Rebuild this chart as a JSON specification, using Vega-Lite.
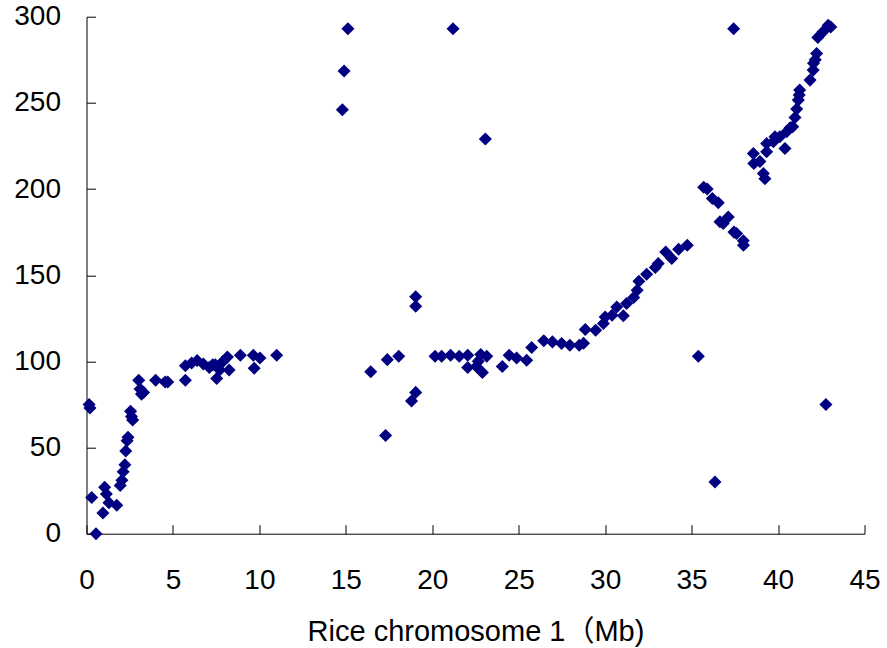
{
  "$schema": "https://vega.github.io/schema/vega-lite/v6.json",
  "width": 778,
  "height": 517,
  "autosize": {"type": "none"},
  "padding": {"left": 86.5, "top": 16.7, "right": 22.5, "bottom": 114.3},
  "background": "white",
  "config": {"view": {"stroke": null}},
  "data": {"values": [
    {"mb": 0.15, "pos": 75}, {"mb": 0.2, "pos": 73}, {"mb": 0.3, "pos": 21}, {"mb": 0.55, "pos": 0}, {"mb": 0.95, "pos": 12}, {"mb": 1.05, "pos": 27}, {"mb": 1.15, "pos": 23}, {"mb": 1.3, "pos": 18}, {"mb": 1.75, "pos": 16.5}, {"mb": 1.95, "pos": 28}, {"mb": 2.05, "pos": 31}, {"mb": 2.12, "pos": 36}, {"mb": 2.22, "pos": 40}, {"mb": 2.27, "pos": 48}, {"mb": 2.35, "pos": 54}, {"mb": 2.4, "pos": 56}, {"mb": 2.55, "pos": 71}, {"mb": 2.6, "pos": 68}, {"mb": 2.67, "pos": 66}, {"mb": 3.02, "pos": 89}, {"mb": 3.1, "pos": 84}, {"mb": 3.18, "pos": 81}, {"mb": 3.3, "pos": 82}, {"mb": 4.0, "pos": 89}, {"mb": 4.55, "pos": 88}, {"mb": 4.7, "pos": 88}, {"mb": 5.72, "pos": 89}, {"mb": 5.72, "pos": 97.5}, {"mb": 6.08, "pos": 99}, {"mb": 6.4, "pos": 100.5}, {"mb": 6.76, "pos": 98.5}, {"mb": 7.1, "pos": 96.5}, {"mb": 7.3, "pos": 98}, {"mb": 7.45, "pos": 98}, {"mb": 7.53, "pos": 90}, {"mb": 7.7, "pos": 95}, {"mb": 7.9, "pos": 100}, {"mb": 8.15, "pos": 102.5}, {"mb": 8.25, "pos": 95}, {"mb": 8.9, "pos": 103.5}, {"mb": 9.65, "pos": 103.5}, {"mb": 9.7, "pos": 96}, {"mb": 10.03, "pos": 102}, {"mb": 11.0, "pos": 103.5},
    {"mb": 14.8, "pos": 246}, {"mb": 14.9, "pos": 268.5}, {"mb": 15.12, "pos": 293}, {"mb": 16.44, "pos": 94}, {"mb": 17.3, "pos": 57}, {"mb": 17.4, "pos": 101}, {"mb": 18.06, "pos": 103}, {"mb": 18.8, "pos": 77}, {"mb": 19.04, "pos": 82}, {"mb": 19.04, "pos": 132}, {"mb": 19.04, "pos": 137.5},
    {"mb": 20.16, "pos": 103}, {"mb": 20.54, "pos": 103}, {"mb": 21.06, "pos": 103.5}, {"mb": 21.2, "pos": 293}, {"mb": 21.56, "pos": 103}, {"mb": 22.05, "pos": 103.5}, {"mb": 22.05, "pos": 96.5}, {"mb": 22.55, "pos": 97}, {"mb": 22.66, "pos": 100}, {"mb": 22.8, "pos": 104}, {"mb": 22.9, "pos": 93.5}, {"mb": 23.07, "pos": 229}, {"mb": 23.15, "pos": 103}, {"mb": 24.05, "pos": 97}, {"mb": 24.45, "pos": 103.5}, {"mb": 24.88, "pos": 102}, {"mb": 25.46, "pos": 100.7}, {"mb": 25.75, "pos": 108}, {"mb": 26.45, "pos": 112}, {"mb": 26.95, "pos": 111.3}, {"mb": 27.48, "pos": 110.4}, {"mb": 27.96, "pos": 109.4}, {"mb": 28.5, "pos": 109.4}, {"mb": 28.75, "pos": 110.5}, {"mb": 28.85, "pos": 118.5}, {"mb": 29.45, "pos": 118}, {"mb": 29.9, "pos": 122}, {"mb": 30.0, "pos": 125.8}, {"mb": 30.4, "pos": 126.8}, {"mb": 30.67, "pos": 131.6}, {"mb": 31.05, "pos": 126.5}, {"mb": 31.24, "pos": 133.6}, {"mb": 31.65, "pos": 137}, {"mb": 31.85, "pos": 141.3}, {"mb": 31.95, "pos": 146.5}, {"mb": 32.4, "pos": 150.5}, {"mb": 32.9, "pos": 154.5}, {"mb": 33.07, "pos": 156.8}, {"mb": 33.5, "pos": 163.5}, {"mb": 33.85, "pos": 159.7}, {"mb": 34.25, "pos": 165}, {"mb": 34.75, "pos": 167.4},
    {"mb": 35.39, "pos": 103}, {"mb": 35.7, "pos": 201}, {"mb": 35.9, "pos": 200}, {"mb": 36.2, "pos": 194.5}, {"mb": 36.35, "pos": 30}, {"mb": 36.54, "pos": 192}, {"mb": 36.64, "pos": 181}, {"mb": 36.83, "pos": 180}, {"mb": 37.12, "pos": 183.8}, {"mb": 37.43, "pos": 293}, {"mb": 37.45, "pos": 175}, {"mb": 37.6, "pos": 174.2}, {"mb": 37.99, "pos": 170}, {"mb": 38.0, "pos": 167.4}, {"mb": 38.57, "pos": 220.6}, {"mb": 38.6, "pos": 214.8}, {"mb": 38.95, "pos": 216}, {"mb": 39.15, "pos": 209}, {"mb": 39.24, "pos": 206}, {"mb": 39.34, "pos": 221.6}, {"mb": 39.34, "pos": 226.4}, {"mb": 39.73, "pos": 227.5}, {"mb": 39.82, "pos": 230.3}, {"mb": 40.1, "pos": 230.3}, {"mb": 40.4, "pos": 223.5}, {"mb": 40.5, "pos": 233.2}, {"mb": 40.7, "pos": 235.5}, {"mb": 40.85, "pos": 236.1}, {"mb": 40.98, "pos": 241.5}, {"mb": 41.08, "pos": 246.5}, {"mb": 41.17, "pos": 251.6}, {"mb": 41.22, "pos": 254.5}, {"mb": 41.25, "pos": 257.4}, {"mb": 41.85, "pos": 263.2}, {"mb": 42.03, "pos": 269}, {"mb": 42.05, "pos": 273}, {"mb": 42.15, "pos": 275}, {"mb": 42.23, "pos": 278.7}, {"mb": 42.3, "pos": 288}, {"mb": 42.6, "pos": 291.2}, {"mb": 42.77, "pos": 75}, {"mb": 42.9, "pos": 295}, {"mb": 43.05, "pos": 294}
  ]},
  "mark": {"type": "point", "shape": "diamond", "filled": true, "size": 170, "color": "#000080", "opacity": 1, "clip": false},
  "encoding": {
    "x": {
      "field": "mb", "type": "quantitative",
      "scale": {"domain": [0, 45], "nice": false, "zero": false},
      "axis": {
        "values": [0, 5, 10, 15, 20, 25, 30, 35, 40, 45],
        "title": "Rice chromosome 1（Mb)",
        "grid": false, "domainColor": "#000", "tickColor": "#000", "tickSize": -9,
        "labelPadding": 42, "labelFont": "Liberation Sans", "labelFontSize": 28, "labelColor": "#000",
        "labelFlush": false, "labelOverlap": false,
        "titleFont": "Liberation Sans, Noto Sans CJK SC", "titleFontSize": 29, "titleFontWeight": "normal", "titleColor": "#000", "titlePadding": 23
      }
    },
    "y": {
      "field": "pos", "type": "quantitative",
      "scale": {"domain": [0, 300], "nice": false, "zero": false},
      "axis": {
        "values": [0, 50, 100, 150, 200, 250, 300],
        "title": null,
        "grid": false, "domainColor": "#000", "tickColor": "#000", "tickSize": -9,
        "labelPadding": 35, "labelFont": "Liberation Sans", "labelFontSize": 28, "labelColor": "#000",
        "labelFlush": false, "labelOverlap": false
      }
    }
  }
}
